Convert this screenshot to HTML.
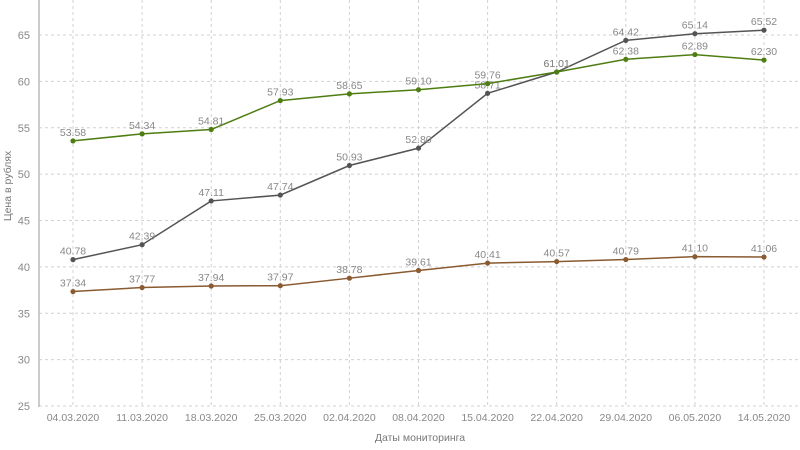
<!DOCTYPE html>
<html><head><meta charset="utf-8"><style>
html,body{margin:0;padding:0;background:#fff;width:800px;height:450px;overflow:hidden}
svg{display:block;font-family:"Liberation Sans",sans-serif}
</style></head><body>
<svg id="c" width="800" height="450" xmlns="http://www.w3.org/2000/svg"></svg>
<script>
const s=document.getElementById('c');
const X0=73,DX=69.1,Y=v=>406-(v-25)*9.275;
const dates=["04.03.2020","11.03.2020","18.03.2020","25.03.2020","02.04.2020","08.04.2020","15.04.2020","22.04.2020","29.04.2020","06.05.2020","14.05.2020"];
const series=[
{c:"#545454",d:[40.78,42.39,47.11,47.74,50.93,52.80,58.71,61.01,64.42,65.14,65.52]},
{c:"#4e7d12",d:[53.58,54.34,54.81,57.93,58.65,59.10,59.76,61.01,62.38,62.89,62.30]},
{c:"#8a5a30",d:[37.34,37.77,37.94,37.97,38.78,39.61,40.41,40.57,40.79,41.10,41.06]}];
let h='';
for(let v=25;v<=65;v+=5){const y=Y(v);h+=`<line x1="39" x2="800" y1="${y}" y2="${y}" stroke="#d4cfd4" stroke-dasharray="3,3"/>`;
h+=`<text x="30" y="${y+4}" font-size="11" fill="#888" text-anchor="end">${v}</text>`;}
dates.forEach((d,i)=>{const x=X0+i*DX;h+=`<line x1="${x}" x2="${x}" y1="0" y2="406" stroke="#d4cfd4" stroke-dasharray="3,3"/>`;
h+=`<text x="${x}" y="421" font-size="10.5" fill="#888" text-anchor="middle">${d}</text>`;});
h+=`<line x1="39" x2="39" y1="0" y2="407" stroke="#bbb" stroke-width="1.5"/>`;
h+=`<text x="420" y="441" font-size="10.5" fill="#777" text-anchor="middle">Даты мониторинга</text>`;
h+=`<text transform="translate(11,186) rotate(-90)" font-size="10.5" fill="#777" text-anchor="middle">Цена в рублях</text>`;
series.forEach(se=>{const pts=se.d.map((v,i)=>`${X0+i*DX},${Y(v)}`).join(' ');
h+=`<polyline points="${pts}" fill="none" stroke="${se.c}" stroke-width="1.5"/>`;
se.d.forEach((v,i)=>{const x=X0+i*DX,y=Y(v);h+=`<circle cx="${x}" cy="${y}" r="2.6" fill="${se.c}"/>`;
h+=`<text x="${x}" y="${y-5}" font-size="10.5" fill="#888" text-anchor="middle">${v.toFixed(2)}</text>`;});});
s.innerHTML=h;
</script>
</body></html>
